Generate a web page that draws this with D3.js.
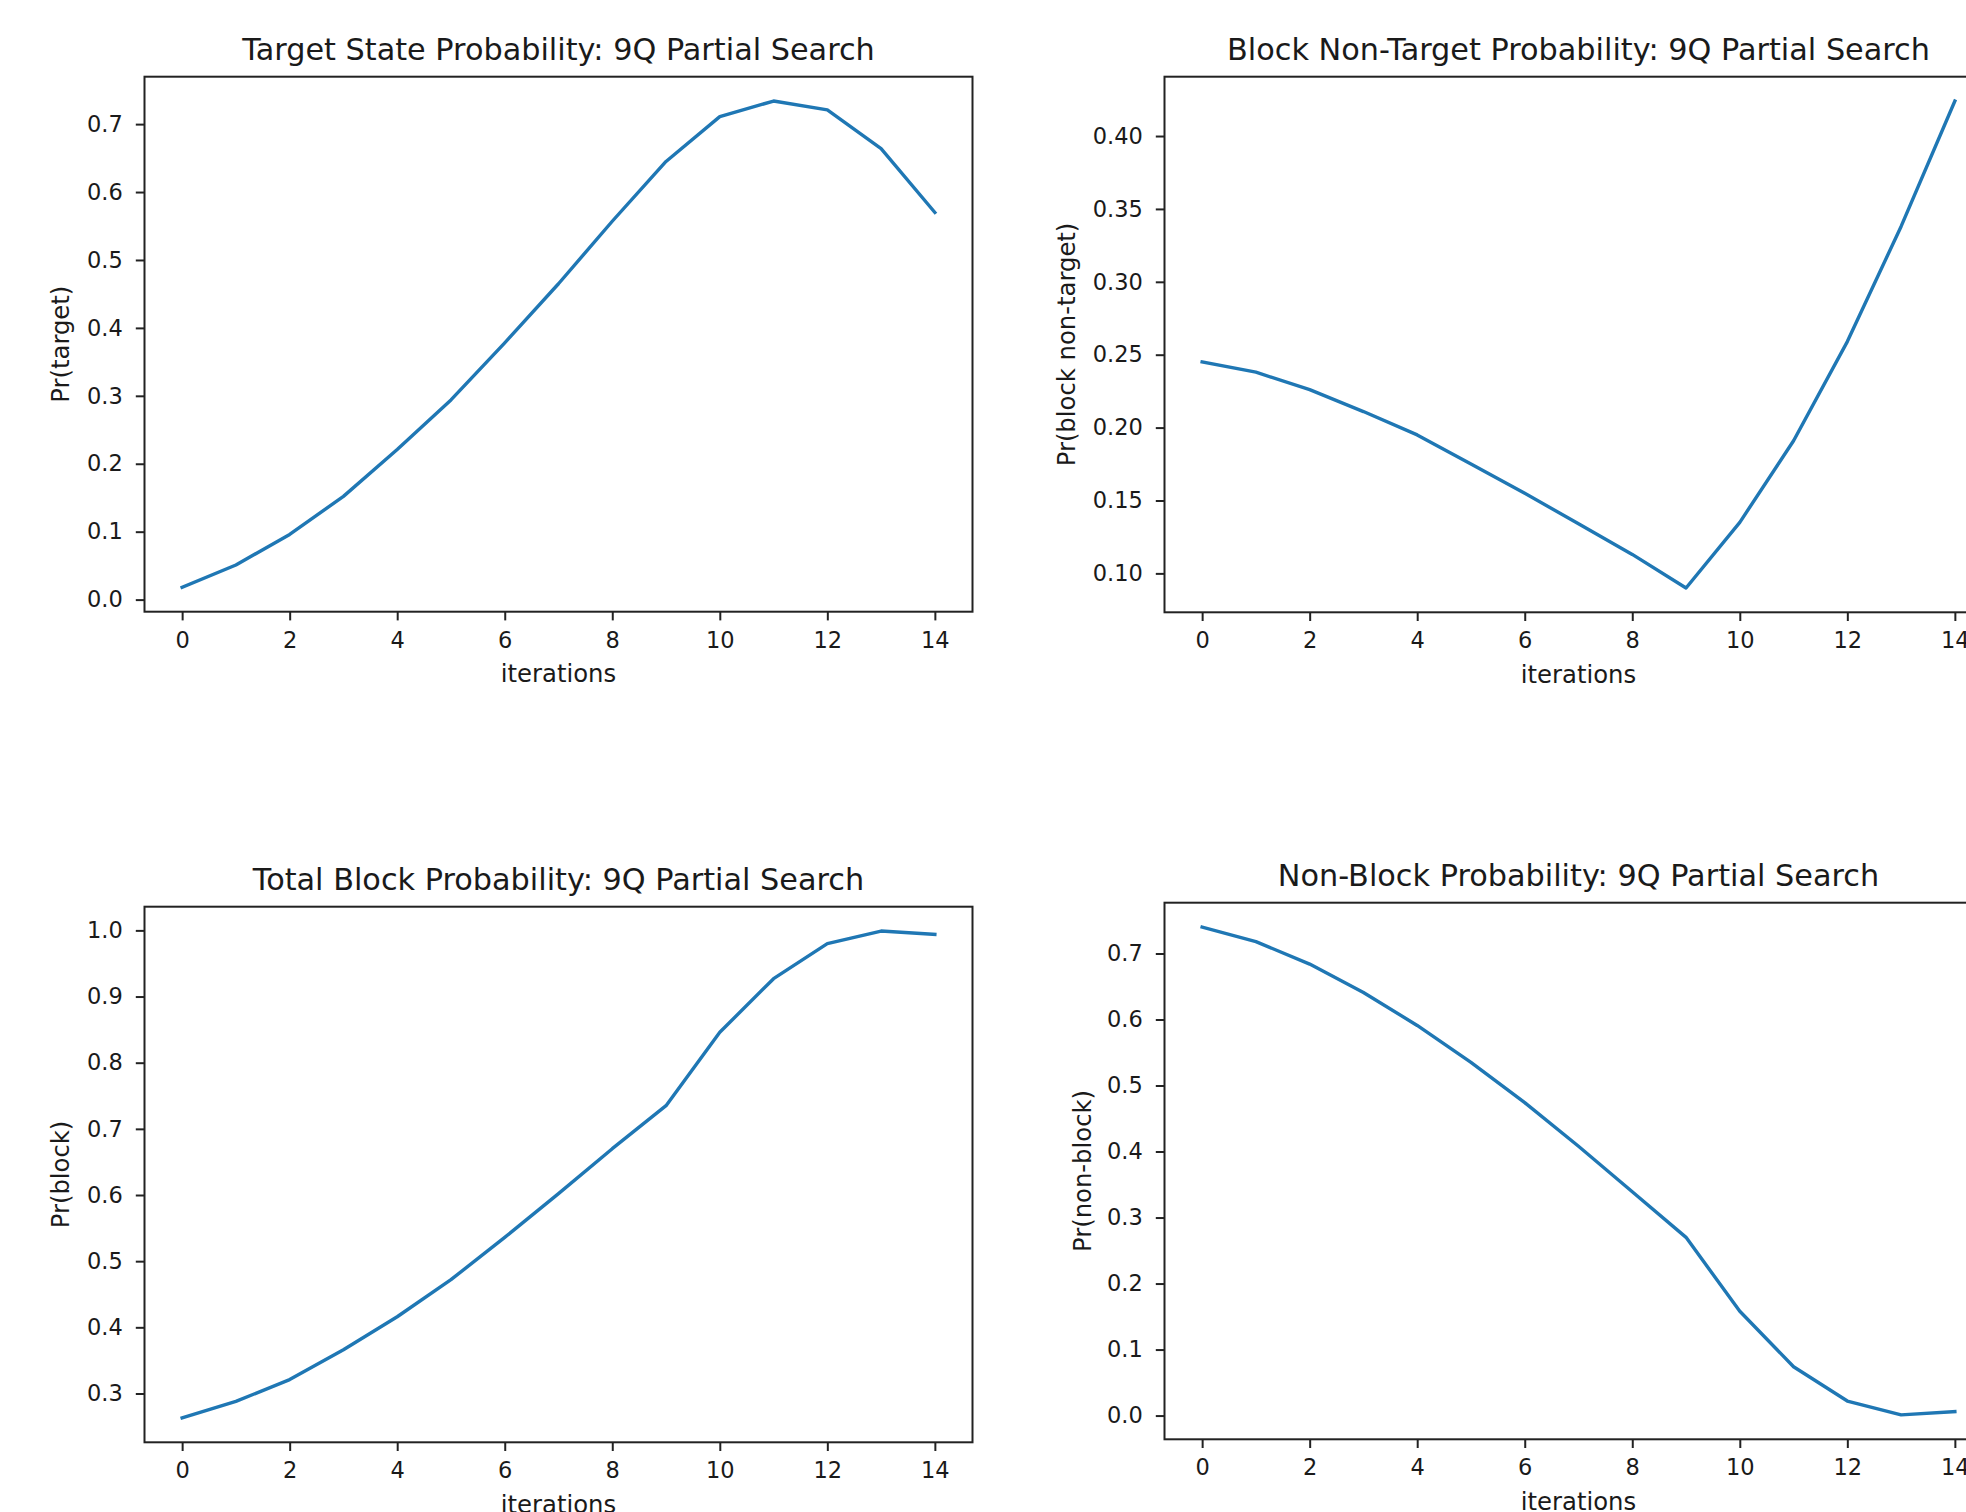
<!DOCTYPE html>
<html>
<head>
<meta charset="utf-8">
<script src="https://cdn.jsdelivr.net/npm/d3@7"></script>
<style>
  html, body { margin: 0; padding: 0; background: #fff; }
  svg { display: block; }
  text { font-family: "DejaVu Sans", sans-serif; fill: #1a1a1a; }
</style>
</head>
<body>
<svg id="chart" width="1966" height="1512"></svg>
<script>
// ---- data ----
const iterations = [0, 1, 2, 3, 4, 5, 6, 7, 8, 9, 10, 11, 12, 13, 14];
const targetProb = [0.018, 0.051, 0.096, 0.152, 0.221, 0.294, 0.378, 0.465, 0.557, 0.645, 0.711, 0.734, 0.721, 0.664, 0.570];
const blockNonTargetProb = [0.245, 0.238, 0.226, 0.211, 0.195, 0.175, 0.155, 0.134, 0.113, 0.090, 0.135, 0.191, 0.259, 0.338, 0.424];
const totalBlockProb = [0.263, 0.288, 0.321, 0.366, 0.416, 0.472, 0.536, 0.602, 0.670, 0.735, 0.846, 0.927, 0.980, 0.999, 0.994];
const nonBlockProb = [0.740, 0.718, 0.684, 0.641, 0.591, 0.535, 0.474, 0.408, 0.339, 0.270, 0.158, 0.074, 0.022, 0.001, 0.006];

const xTicks = [0, 2, 4, 6, 8, 10, 12, 14];
const yTicksTarget = [0.0, 0.1, 0.2, 0.3, 0.4, 0.5, 0.6, 0.7];
const yTicksBlockNonTarget = [0.10, 0.15, 0.20, 0.25, 0.30, 0.35, 0.40];
const yTicksTotalBlock = [0.3, 0.4, 0.5, 0.6, 0.7, 0.8, 0.9, 1.0];
const yTicksNonBlock = [0.0, 0.1, 0.2, 0.3, 0.4, 0.5, 0.6, 0.7];

const titles = [
  "Target State Probability: 9Q Partial Search",
  "Block Non-Target Probability: 9Q Partial Search",
  "Total Block Probability: 9Q Partial Search",
  "Non-Block Probability: 9Q Partial Search"
];
const yLabels = ["Pr(target)", "Pr(block non-target)", "Pr(block)", "Pr(non-block)"];
const xLabel = "iterations";

// ---- layout (not data) ----
const panels = [
  { title: titles[0], ylabel: yLabels[0], values: targetProb, yTicks: yTicksTarget, fmt: ".1f",
    left: 144.5, top: 76.7, width: 828, height: 535, ylabOff: 76 },
  { title: titles[1], ylabel: yLabels[1], values: blockNonTargetProb, yTicks: yTicksBlockNonTarget, fmt: ".2f",
    left: 1164.5, top: 76.7, width: 828, height: 535.6, ylabOff: 90 },
  { title: titles[2], ylabel: yLabels[2], values: totalBlockProb, yTicks: yTicksTotalBlock, fmt: ".1f",
    left: 144.5, top: 906.7, width: 828, height: 535.6, ylabOff: 76 },
  { title: titles[3], ylabel: yLabels[3], values: nonBlockProb, yTicks: yTicksNonBlock, fmt: ".1f",
    left: 1164.5, top: 902.7, width: 828, height: 536.6, ylabOff: 74 }
];

const svg = d3.select("#chart");
svg.append("rect").attr("width", 1966).attr("height", 1512).attr("fill", "#fff");

const TICK_FONT = 22.5, LABEL_FONT = 24.3, TITLE_FONT = 30.3;
const TICK_LEN = 8.7;
const AXIS_COLOR = "#222";

panels.forEach(p => {
  const g = svg.append("g").attr("transform", `translate(${p.left},${p.top})`);

  const xMin = d3.min(iterations), xMax = d3.max(iterations);
  const xPad = (xMax - xMin) * 0.05;
  const x = d3.scaleLinear().domain([xMin - xPad, xMax + xPad]).range([0, p.width]);

  const yMin = d3.min(p.values), yMax = d3.max(p.values);
  const yPad = (yMax - yMin) * 0.05;
  const y = d3.scaleLinear().domain([yMin - yPad, yMax + yPad]).range([p.height, 0]);

  // x axis
  const xa = g.append("g").attr("transform", `translate(0,${p.height})`)
    .call(d3.axisBottom(x).tickValues(xTicks).tickFormat(d3.format("d"))
      .tickSizeInner(TICK_LEN).tickSizeOuter(0).tickPadding(11.3));
  xa.select(".domain").remove();
  xa.selectAll(".tick line").attr("stroke", AXIS_COLOR).attr("stroke-width", 2);
  xa.selectAll(".tick text").attr("font-size", TICK_FONT).attr("font-family", "DejaVu Sans").attr("fill", "#1a1a1a");

  // y axis
  const ya = g.append("g")
    .call(d3.axisLeft(y).tickValues(p.yTicks).tickFormat(d3.format(p.fmt))
      .tickSizeInner(TICK_LEN).tickSizeOuter(0).tickPadding(13));
  ya.select(".domain").remove();
  ya.selectAll(".tick line").attr("stroke", AXIS_COLOR).attr("stroke-width", 2);
  ya.selectAll(".tick text").attr("font-size", TICK_FONT).attr("font-family", "DejaVu Sans").attr("fill", "#1a1a1a");

  // data line
  const line = d3.line().x((d, i) => x(iterations[i])).y(d => y(d));
  g.append("path").datum(p.values)
    .attr("d", line)
    .attr("fill", "none")
    .attr("stroke", "#1f77b4")
    .attr("stroke-width", 3.4)
    .attr("stroke-linejoin", "round")
    .attr("stroke-linecap", "square");

  // frame
  g.append("rect").attr("x", 0).attr("y", 0).attr("width", p.width).attr("height", p.height)
    .attr("fill", "none").attr("stroke", AXIS_COLOR).attr("stroke-width", 2);

  // title
  g.append("text").attr("x", p.width / 2).attr("y", -16.5)
    .attr("text-anchor", "middle").attr("font-size", TITLE_FONT).text(p.title);

  // x label
  g.append("text").attr("x", p.width / 2).attr("y", p.height + 70.5)
    .attr("text-anchor", "middle").attr("font-size", LABEL_FONT).text(xLabel);

  // y label
  g.append("text")
    .attr("transform", `translate(${-p.ylabOff},${p.height / 2}) rotate(-90)`)
    .attr("text-anchor", "middle").attr("font-size", LABEL_FONT).text(p.ylabel);
});
</script>
</body>
</html>
